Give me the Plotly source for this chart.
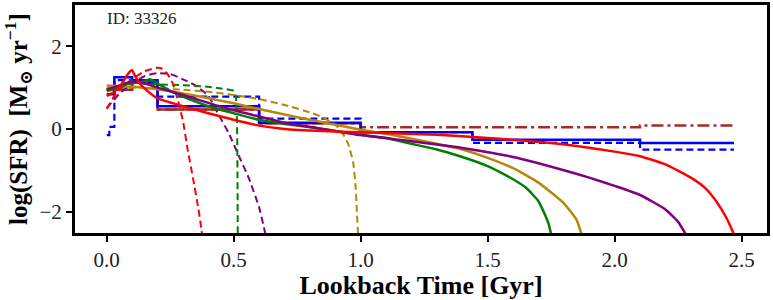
import plotly.graph_objects as go

# ---- data ----
blue_edges = [0.0, 0.03, 0.1, 0.2, 0.6, 1.0, 1.44, 2.1, 2.47]
blue_solid = [0.84, 1.25, 1.18, 0.55, 0.15, -0.08, -0.26, -0.34]
blue_dash_edges = [0.0, 0.01, 0.03, 0.1, 0.2, 0.6, 1.0, 1.44, 2.1, 2.47]
blue_dash = [-0.15, 0.05, 1.18, 1.12, 0.78, 0.25, -0.08, -0.34, -0.5]
brown_edges = [0.0, 0.1, 0.2, 0.6, 1.0]
brown_solid = [0.95, 1.12, 0.47, 0.14]
brown_dd_edges = [0.0, 0.1, 0.2, 0.6, 1.0, 2.1, 2.47]
brown_dd = [0.95, 1.12, 0.47, 0.14, 0.04, 0.08]

red_x = [0, 0.03, 0.06, 0.08, 0.095, 0.1, 0.11, 0.13, 0.16, 0.2, 0.25, 0.3, 0.4, 0.5, 0.6, 0.7, 0.85,
         1.0, 1.3, 1.5, 1.75, 2.0, 2.1, 2.2, 2.3, 2.36, 2.4, 2.44, 2.47]
red_y = [0.8, 0.9, 1.1, 1.3, 1.41, 1.42, 1.3, 1.1, 0.92, 0.74, 0.64, 0.55, 0.38, 0.22, 0.08, 0.0, -0.05,
         -0.08, -0.14, -0.22, -0.34, -0.55, -0.66, -0.86, -1.18, -1.45, -1.75, -2.15, -2.55]
red_d_x = [0, 0.03, 0.06, 0.1, 0.15, 0.2, 0.22, 0.24, 0.26, 0.28, 0.29, 0.3, 0.32, 0.34, 0.36, 0.37, 0.375]
red_d_y = [0.48, 0.8, 1.0, 1.2, 1.4, 1.48, 1.45, 1.32, 1.1, 0.7, 0.45, 0.2, -0.55, -1.2, -1.9, -2.3, -2.55]

green_x = [0, 0.05, 0.1, 0.13, 0.17, 0.2, 0.25, 0.3, 0.4, 0.5, 0.6, 0.7, 0.8, 0.9, 1.0, 1.1, 1.2, 1.3,
           1.4, 1.5, 1.55, 1.6, 1.65, 1.7, 1.72, 1.74, 1.75]
green_y = [0.92, 1.0, 1.15, 1.12, 1.2, 1.1, 0.92, 0.78, 0.55, 0.38, 0.22, 0.12, 0.04, -0.05, -0.14,
           -0.22, -0.36, -0.5, -0.68, -0.9, -1.05, -1.22, -1.42, -1.75, -2.0, -2.3, -2.55]
green_d_x = [0, 0.05, 0.1, 0.15, 0.2, 0.3, 0.4, 0.45, 0.5, 0.508, 0.512, 0.514, 0.515, 0.516]
green_d_y = [0.95, 1.02, 1.1, 1.1, 1.08, 1.06, 1.02, 0.98, 0.92, 0.8, 0.4, -0.3, -1.3, -2.6]

purple_x = [0, 0.05, 0.1, 0.15, 0.2, 0.3, 0.4, 0.5, 0.6, 0.7, 0.8, 1.0, 1.2, 1.4, 1.6, 1.8, 1.9, 2.0,
            2.1, 2.2, 2.25, 2.28]
purple_y = [0.95, 1.05, 1.15, 1.1, 1.0, 0.82, 0.63, 0.45, 0.3, 0.15, 0.05, -0.15, -0.3, -0.46, -0.68,
            -1.0, -1.18, -1.38, -1.6, -1.95, -2.25, -2.55]
purple_d_x = [0, 0.05, 0.1, 0.15, 0.2, 0.25, 0.3, 0.35, 0.4, 0.44, 0.48, 0.52, 0.56, 0.6, 0.625]
purple_d_y = [0.5, 0.85, 1.1, 1.28, 1.35, 1.33, 1.2, 1.05, 0.8, 0.35, -0.1, -0.65, -1.2, -1.9, -2.55]

gold_x = [0, 0.1, 0.2, 0.3, 0.4, 0.5, 0.6, 0.7, 0.8, 0.9, 1.0, 1.1, 1.2, 1.3, 1.4, 1.5, 1.6, 1.7,
          1.8, 1.85, 1.87]
gold_y = [1.05, 1.02, 0.96, 0.86, 0.74, 0.62, 0.48, 0.35, 0.22, 0.1, -0.02, -0.12, -0.24, -0.36,
          -0.5, -0.7, -0.95, -1.3, -1.8, -2.2, -2.55]
gold_d_x = [0, 0.1, 0.2, 0.3, 0.4, 0.5, 0.6, 0.7, 0.8, 0.85, 0.9, 0.93, 0.95, 0.97, 0.98, 0.985, 0.99]
gold_d_y = [1.0, 1.0, 0.98, 0.95, 0.9, 0.82, 0.72, 0.58, 0.4, 0.28, 0.1, -0.12, -0.35, -0.8, -1.4,
            -2.0, -2.6]

x_ticks = [0.0, 0.5, 1.0, 1.5, 2.0, 2.5]
x_ticklabels = ["0.0", "0.5", "1.0", "1.5", "2.0", "2.5"]
y_ticks = [-2, 0, 2]
y_ticklabels = ["\u22122", "0", "2"]
galaxy_id = "ID: 33326"

BLUE, RED, GREEN, PURPLE, GOLD, BROWN = "#0000ff", "#ff0000", "#008000", "#800080", "#b8860b", "#a52a2a"
DASH = "7px,4px"

fig = go.Figure()


def step(edges, vals, color, dash, width):
    fig.add_trace(go.Scatter(x=edges, y=list(vals) + [vals[-1]], mode="lines", line_shape="hv",
                             line=dict(color=color, dash=dash, width=width), showlegend=False,
                             hoverinfo="skip"))


def curve(x, y, color, dash, width):
    fig.add_trace(go.Scatter(x=x, y=y, mode="lines", line_shape="spline",
                             line=dict(color=color, dash=dash, width=width, smoothing=0.5),
                             showlegend=False, hoverinfo="skip"))


step(brown_dd_edges, brown_dd, BROWN, "12px,4px,3px,4px", 2.5)
step(brown_edges, brown_solid, BROWN, "solid", 2.5)
step(blue_dash_edges, blue_dash, BLUE, DASH, 2.2)
step(blue_edges, blue_solid, BLUE, "solid", 2.5)
curve(gold_d_x, gold_d_y, GOLD, DASH, 2)
curve(purple_d_x, purple_d_y, PURPLE, DASH, 2)
curve(green_d_x, green_d_y, GREEN, DASH, 2)
curve(red_d_x, red_d_y, RED, DASH, 2)
curve(gold_x, gold_y, GOLD, "solid", 2.5)
curve(green_x, green_y, GREEN, "solid", 2.5)
curve(purple_x, purple_y, PURPLE, "solid", 2.5)
curve(red_x, red_y, RED, "solid", 2.5)

fig.add_annotation(x=0.0, y=0.99, xref="x", yref="paper", text=galaxy_id, showarrow=False,
                   xanchor="left", yanchor="top", xshift=-2, font=dict(size=17, color="#222"))

FONT = "Liberation Serif, DejaVu Serif, serif"
axis_common = dict(showline=True, linecolor="black", linewidth=3, mirror=True, ticks="outside",
                   ticklen=6, tickwidth=2, tickcolor="black", showgrid=False, zeroline=False,
                   automargin=False, tickfont=dict(size=21, color="#222"))
fig.update_layout(
    width=773, height=300, margin=dict(l=75, r=6, t=5, b=67),
    plot_bgcolor="white", paper_bgcolor="white",
    font=dict(family=FONT, color="black"),
    xaxis=dict(range=[-0.125, 2.6], tickvals=x_ticks, ticktext=x_ticklabels,
               title=dict(text="<b>Lookback Time [Gyr]</b>", font=dict(size=26), standoff=4),
               **axis_common),
    yaxis=dict(range=[-2.52, 3.0], tickvals=y_ticks, ticktext=y_ticklabels,
               title=dict(text="<b>log(SFR)  [M<sub>\u2299</sub> yr<sup>\u22121</sup>]</b>",
                          font=dict(size=25), standoff=10),
               **axis_common),
)

fig.write_html("out.html", config={"displayModeBar": False},
               post_script="document.body.style.margin='0';document.body.style.padding='0';")
